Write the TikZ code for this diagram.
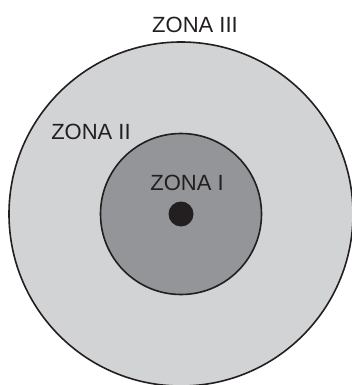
\documentclass[tikz,border=0pt]{standalone}
\usepackage{fontspec}
\setsansfont{Liberation Sans}
\usepackage{tikz}
\usetikzlibrary{positioning}
\definecolor{ZoneInk}{HTML}{231F20}
\definecolor{OuterFill}{HTML}{D1D3D4}
\definecolor{InnerFill}{HTML}{939598}

\begin{document}
\begin{tikzpicture}[
    x=1pt, y=1pt,
    font=\sffamily\fontsize{22}{24}\selectfont,
    zone/.style={
      circle,
      draw=ZoneInk,
      line width=1.6pt,
      inner sep=0pt,
    },
    zlabel/.style={
      text=ZoneInk,
      inner sep=0pt,
    },
  ]
    \useasboundingbox (0,0) rectangle (352,-385);
    \coordinate (c) at (181,-214);

    \node[zone, fill=OuterFill, minimum size=344pt] (z3) at (c) {};
    \node[zone, fill=InnerFill, minimum size=161pt] (z1) at (c) {};
    \node[circle, fill=ZoneInk, minimum size=25pt, inner sep=0pt] (src) at (c) {};

    \node[zlabel] (l3) at (195,-25) {ZONA III};
    \node[zlabel] (l2) at (91,-132) {ZONA II};
    \node[zlabel] (l1) at (187,-183) {ZONA I};
  \end{tikzpicture}
\end{document}
